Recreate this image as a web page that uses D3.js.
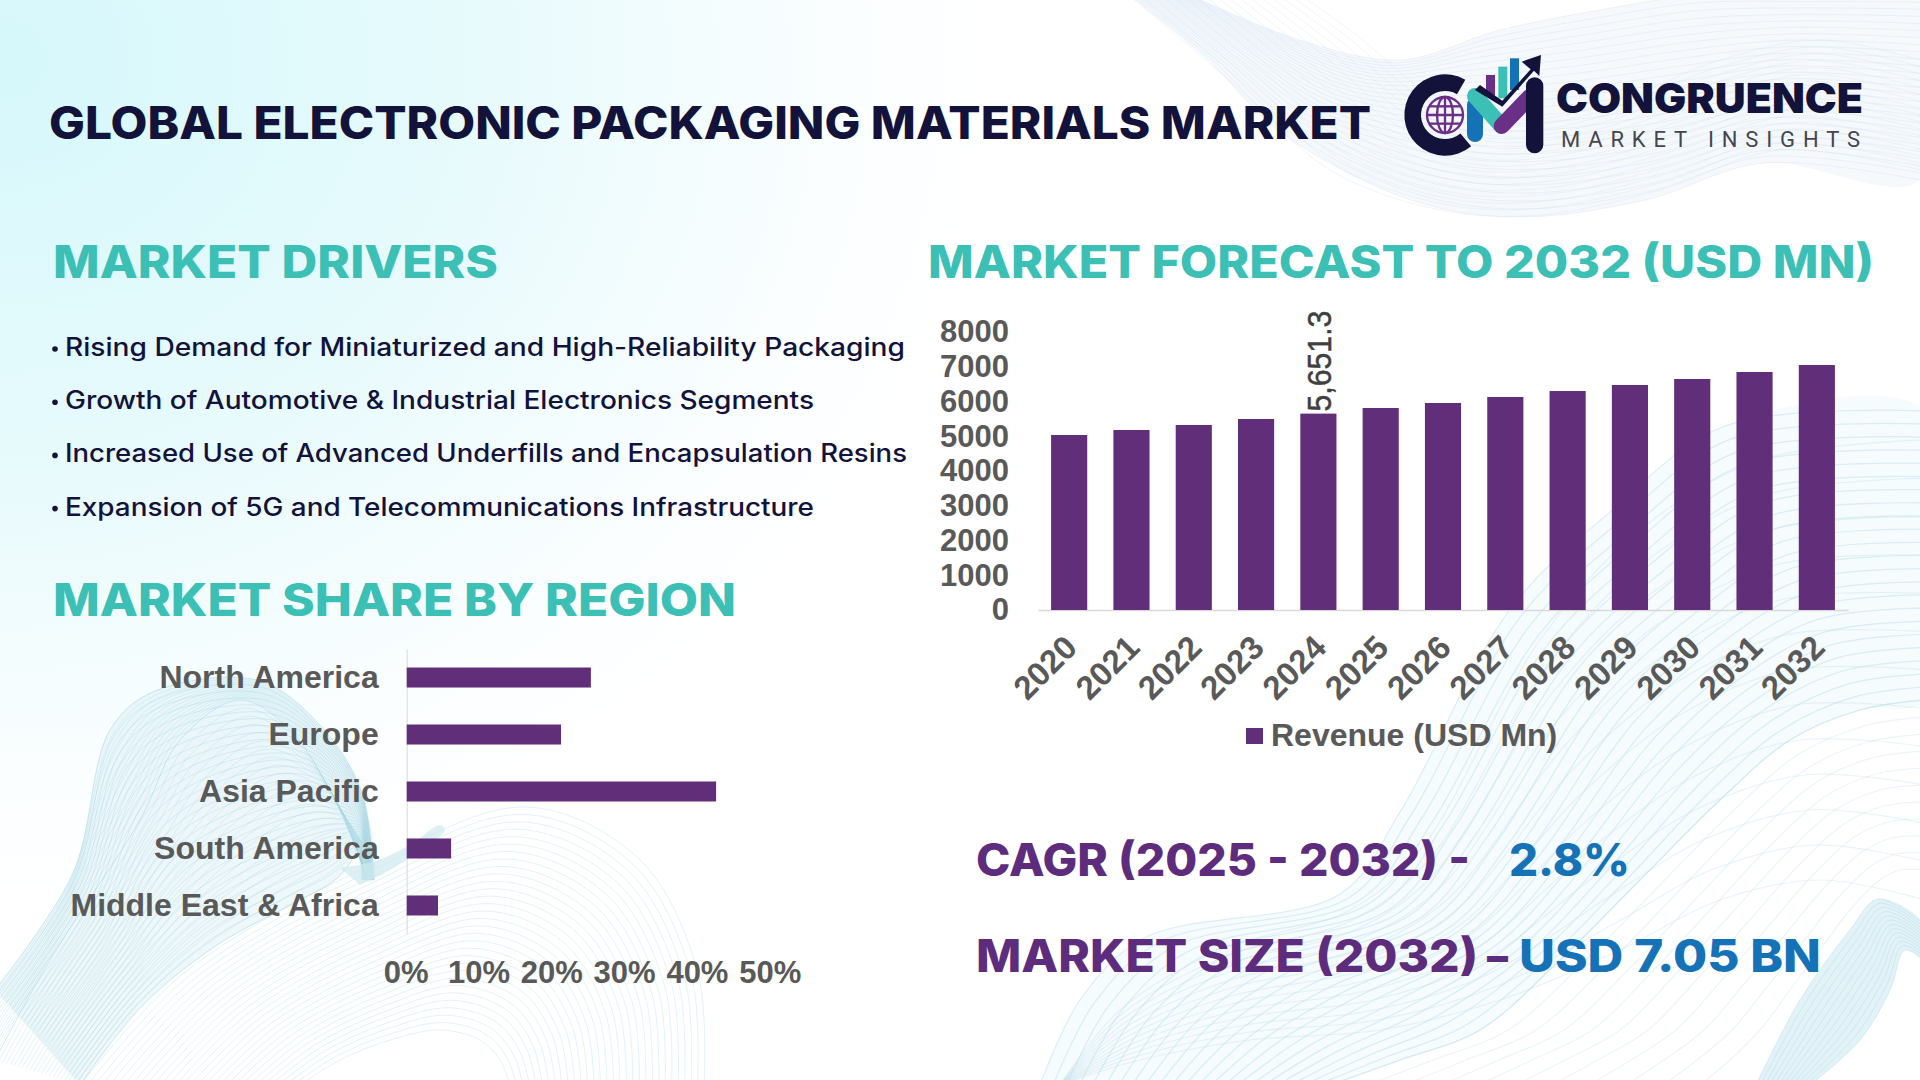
<!DOCTYPE html>
<html>
<head>
<meta charset="utf-8">
<script src="https://cdn.jsdelivr.net/npm/d3@7"></script>
<style>
body { margin: 0; background: #fff; }
text { font-family: "Liberation Sans", Arial, sans-serif; }
.head { font-family: Inter, sans-serif; }
</style>
</head>
<body>
<script>
// chart values
var years = ["2020","2021","2022","2023","2024","2025","2026","2027","2028","2029","2030","2031","2032"];
var revenue = [5036,5180,5324,5496,5651.3,5813,5957,6130,6302,6475,6647,6849,7050];
var revenueTicks = [0,1000,2000,3000,4000,5000,6000,7000,8000];
var regions = ["North America","Europe","Asia Pacific","South America","Middle East & Africa"];
var regionShare = [25.3,21.2,42.5,6.1,4.3];
var shareTicks = [0,10,20,30,40,50];
var drivers = [
  "Rising Demand for Miniaturized and High-Reliability Packaging",
  "Growth of Automotive & Industrial Electronics Segments",
  "Increased Use of Advanced Underfills and Encapsulation Resins",
  "Expansion of 5G and Telecommunications Infrastructure"
];
var driverWidths = [839,748,841,748];

var purple = "#612e79", grey = "#595959", teal = "#3cbfb5", navy = "#12123a", blue = "#1572b6";

var svg = d3.select("body").append("svg")
  .attr("width", 1920)
  .attr("height", 1080)
  .style("display", "block");

// background wash
var defs = svg.append("defs");
var wash = defs.append("radialGradient")
  .attr("id", "wash")
  .attr("gradientUnits", "userSpaceOnUse")
  .attr("cx", 0).attr("cy", 60).attr("r", 1000)
  .attr("gradientTransform", "translate(0,60) scale(1,0.85) translate(0,-60)");
wash.append("stop").attr("offset", "0").attr("stop-color", "#d6f8fb");
wash.append("stop").attr("offset", "0.45").attr("stop-color", "#e6fafc");
wash.append("stop").attr("offset", "0.85").attr("stop-color", "#fbfeff");
wash.append("stop").attr("offset", "1").attr("stop-color", "#ffffff");
svg.append("rect").attr("width", 1920).attr("height", 1080).attr("fill", "url(#wash)");

// wave decoration: a family of thin curves between two guide paths
var curve = d3.line().curve(d3.curveCatmullRom.alpha(0.5));
var bg = svg.append("g").attr("fill", "none");
function ribbon(a, b, n, color, opacity, width) {
  d3.range(n + 1).forEach(function(i) {
    var t = i / n;
    bg.append("path")
      .attr("d", curve(a.map(function(p, k) {
        return [p[0] + (b[k][0] - p[0]) * t, p[1] + (b[k][1] - p[1]) * t];
      })))
      .attr("stroke", color)
      .attr("stroke-opacity", opacity)
      .attr("stroke-width", width);
  });
}
// pale fill under a group of curves
function sheet(a, b, color, opacity) {
  bg.append("path")
    .attr("d", curve(a.concat(b.slice().reverse())) + "Z")
    .attr("fill", color)
    .attr("fill-opacity", opacity);
}

// top right mesh
var topA = [[1129,-5],[1205,57],[1282,133],[1411,200],[1516,217],[1645,200],[1763,163],[1920,180]];
var topB = [[1190,-5],[1300,40],[1400,60],[1500,30],[1600,10],[1700,-5],[1800,-5],[1920,-5]];
sheet(topA, topB, "#e6edf7", 0.35);
ribbon(topA, topB, 26, "#c8d8ee", 0.3, 1);
ribbon([[1129,-5],[1240,90],[1330,170],[1440,210],[1540,215],[1660,190],[1780,150],[1920,170]],
       [[1300,-5],[1350,30],[1440,100],[1520,120],[1620,100],[1720,60],[1820,40],[1920,60]], 16, "#c8dcee", 0.28, 1);

// big hump bottom right
var humpA = [[1040,1085],[1080,1000],[1144,938],[1340,894],[1400,812],[1511,608],[1609,513],[1725,426],[1925,411]];
var humpB = [[1330,1085],[1400,1060],[1480,1030],[1560,960],[1640,880],[1720,800],[1790,740],[1860,710],[1925,700]];
sheet(humpA, humpB, "#e4f3f8", 0.35);
ribbon(humpA, humpB, 22, "#b4dbe8", 0.45, 1.2);
ribbon([[1060,1085],[1120,1010],[1220,950],[1350,910],[1420,850],[1540,640],[1640,530],[1760,460],[1925,440]],
       [[1060,1085],[1140,1060],[1250,1040],[1380,1030],[1500,1000],[1620,950],[1720,900],[1820,880],[1925,900]], 12, "#bfe0ea", 0.35, 1.2);
ribbon([[1330,1085],[1400,1060],[1480,1030],[1560,960],[1640,880],[1720,800],[1790,740],[1860,710],[1925,700]],
       [[1700,1085],[1730,1060],[1760,1030],[1790,990],[1820,950],[1850,910],[1880,880],[1900,870],[1925,870]], 10, "#bfe0ea", 0.32, 1.2);
// bottom right corner ribbon
sheet([[1756,1085],[1800,1000],[1850,930],[1878,899],[1925,925]], [[1810,1085],[1860,1040],[1890,990],[1905,950],[1925,960]], "#cfeaf2", 0.6);
ribbon([[1756,1085],[1800,1000],[1850,930],[1878,899],[1925,925]],
       [[1810,1085],[1860,1040],[1890,990],[1905,950],[1925,960]], 12, "#b4deea", 0.5, 1);

// arc bottom left
ribbon([[80,1085],[184,973],[367,867],[527,807],[640,860],[698,973],[704,1085]],
       [[300,1085],[340,1060],[390,1040],[440,1030],[480,1040],[500,1060],[510,1085]], 30, "#b8e2e8", 0.42, 1);

// mesh bottom left
var leftA = [[-5,990],[73,873],[110,730],[153,692],[257,680],[318,723],[361,790],[374,880]];
var leftB = [[80,1085],[141,1007],[214,947],[290,905],[335,880],[352,860],[360,840],[362,880]];
var leftC = [[-5,1060],[50,960],[140,820],[180,740],[240,700],[290,730],[335,800],[368,880]];
sheet(leftA, leftB, "#cfe9f0", 0.35);
ribbon(leftA, leftB, 30, "#9fd3e0", 0.34, 1);
ribbon(leftC, leftB, 22, "#9fd3e0", 0.28, 1);
ribbon(leftA, leftC, 14, "#9fd3e0", 0.28, 1);
sheet([[340,868],[380,860],[410,845],[440,825]], [[360,885],[390,870],[420,850],[445,830]], "#cfeaef", 0.7);

// header
svg.append("text")
  .attr("class", "head")
  .attr("x", 49).attr("y", 139)
  .attr("font-size", 45).attr("font-weight", 800)
  .attr("fill", navy)
  .attr("textLength", 1322).attr("lengthAdjust", "spacingAndGlyphs")
  .text("GLOBAL ELECTRONIC PACKAGING MATERIALS MARKET");

// section headings
function heading(label, x, y, width) {
  svg.append("text")
    .attr("class", "head")
    .attr("x", x).attr("y", y)
    .attr("font-size", 45).attr("font-weight", 800)
    .attr("fill", teal)
    .attr("textLength", width).attr("lengthAdjust", "spacingAndGlyphs")
    .text(label);
}
heading("MARKET DRIVERS", 53, 278, 445);
heading("MARKET FORECAST TO 2032 (USD MN)", 928, 278, 946);
heading("MARKET SHARE BY REGION", 53, 616, 683);

// driver list
drivers.forEach(function(d, i) {
  var y = 356 + i * 53.2;
  svg.append("circle").attr("cx", 55).attr("cy", y - 7).attr("r", 2.8).attr("fill", navy);
  svg.append("text")
    .attr("class", "head")
    .attr("x", 65).attr("y", y)
    .attr("font-size", 25).attr("font-weight", 500)
    .attr("fill", navy)
    .attr("textLength", driverWidths[i] + 1).attr("lengthAdjust", "spacingAndGlyphs")
    .text(d);
});

// forecast chart
var x = d3.scaleBand().domain(years).range([1038, 1848]).paddingInner(0.42).paddingOuter(0.21);
var y = d3.scaleLinear().domain([0, 8000]).range([610, 332]);

var yAxis = svg.append("g")
  .attr("transform", "translate(1038,0)")
  .call(d3.axisLeft(y).tickValues(revenueTicks).tickSize(0).tickPadding(29).tickFormat(d3.format("d")));
yAxis.select(".domain").remove();
yAxis.selectAll("text")
  .style("font-family", "Liberation Sans")
  .attr("font-size", 31).attr("font-weight", 700).attr("fill", grey);

var xAxis = svg.append("g")
  .attr("transform", "translate(0,610)")
  .call(d3.axisBottom(x).tickSize(0));
xAxis.select(".domain").attr("stroke", "#d9d9d9").attr("stroke-width", 1.5);
xAxis.selectAll("text")
  .style("font-family", "Liberation Sans")
  .attr("font-size", 33).attr("font-weight", 700).attr("fill", grey)
  .attr("text-anchor", "end")
  .attr("dx", 0).attr("dy", 0).attr("x", -21).attr("y", 35)
  .attr("transform", "rotate(-45)");

svg.append("g").selectAll("rect")
  .data(revenue)
  .join("rect")
  .attr("x", function(d, i) { return x(years[i]); })
  .attr("y", function(d) { return y(d); })
  .attr("width", x.bandwidth())
  .attr("height", function(d) { return y(0) - y(d); })
  .attr("fill", purple);

// only 2024 carries a value label
var labelYear = years.indexOf("2024");
svg.append("text")
  .attr("transform", "translate(" + (x(years[labelYear]) + x.bandwidth() / 2 + 13) + "," + (y(revenue[labelYear]) - 2) + ") rotate(-90)")
  .attr("font-size", 33)
  .attr("fill", "#404040")
  .attr("stroke", "#404040").attr("stroke-width", 0.5)
  .attr("textLength", 101).attr("lengthAdjust", "spacingAndGlyphs")
  .text(d3.format(",.1f")(revenue[labelYear]));

// legend
svg.append("rect").attr("x", 1246).attr("y", 728).attr("width", 17).attr("height", 16).attr("fill", purple);
svg.append("text")
  .attr("x", 1271).attr("y", 746)
  .attr("font-size", 32).attr("font-weight", 700).attr("fill", grey)
  .text("Revenue (USD Mn)");

// region chart
var sx = d3.scaleLinear().domain([0, 50]).range([406.7, 770.7]);
var sy = d3.scaleBand().domain(regions).range([649, 934]).paddingInner(0.649).paddingOuter(0.325);

var syAxis = svg.append("g")
  .attr("transform", "translate(406.7,0)")
  .call(d3.axisLeft(sy).tickSize(0).tickPadding(28));
syAxis.select(".domain").attr("stroke", "#d9d9d9").attr("stroke-width", 1);
syAxis.selectAll("text")
  .style("font-family", "Liberation Sans")
  .attr("font-size", 32).attr("font-weight", 700).attr("fill", grey)
  .attr("dy", "0.34em");

var sxAxis = svg.append("g")
  .attr("transform", "translate(0,958)")
  .call(d3.axisBottom(sx).tickValues(shareTicks).tickSize(0).tickFormat(function(d) { return d + "%"; }));
sxAxis.select(".domain").remove();
sxAxis.selectAll("text")
  .style("font-family", "Liberation Sans")
  .attr("font-size", 31).attr("font-weight", 700).attr("fill", grey)
  .attr("dx", -1);

svg.append("g").selectAll("rect")
  .data(regionShare)
  .join("rect")
  .attr("x", sx(0))
  .attr("y", function(d, i) { return sy(regions[i]); })
  .attr("width", function(d) { return sx(d) - sx(0); })
  .attr("height", sy.bandwidth())
  .attr("fill", purple);

// key figures
function keyFigure(label, xpos, ypos, width, color) {
  svg.append("text")
    .attr("class", "head")
    .attr("x", xpos).attr("y", ypos)
    .attr("font-size", 45).attr("font-weight", 800)
    .attr("fill", color)
    .attr("textLength", width).attr("lengthAdjust", "spacingAndGlyphs")
    .text(label);
}
keyFigure("CAGR (2025 - 2032) -", 976, 876, 494, "#5e2c7d");
keyFigure("2.8%", 1509, 876, 121, blue);
keyFigure("MARKET SIZE (2032)", 976, 972, 502, "#5e2c7d");
keyFigure("–", 1487, 972, 21, "#5e2c7d");
keyFigure("USD 7.05 BN", 1519, 972, 302, blue);

// logo, drawn in 3x units
var logo = svg.append("g").attr("transform", "translate(1380,40) scale(0.3333)");
var logoC = d3.arc().innerRadius(72).outerRadius(122)
  .startAngle(140 * Math.PI / 180).endAngle(390 * Math.PI / 180);
logo.append("path").attr("transform", "translate(195,225)").attr("d", logoC).attr("fill", navy);
var globe = logo.append("g").attr("transform", "translate(195,225)").attr("fill", "none")
  .attr("stroke", "#6a2f86").attr("stroke-width", 7);
globe.append("circle").attr("r", 54);
globe.append("ellipse").attr("rx", 24).attr("ry", 54);
globe.append("line").attr("x1", -54).attr("x2", 54);
globe.append("line").attr("x1", -46).attr("x2", 46).attr("y1", -26).attr("y2", -26);
globe.append("line").attr("x1", -46).attr("x2", 46).attr("y1", 26).attr("y2", 26);
globe.append("line").attr("y1", -54).attr("y2", 54);
logo.append("rect").attr("x", 318).attr("y", 105).attr("width", 27).attr("height", 60).attr("fill", "#6a2f86");
logo.append("rect").attr("x", 355).attr("y", 80).attr("width", 27).attr("height", 95).attr("fill", teal);
logo.append("rect").attr("x", 390).attr("y", 55).attr("width", 27).attr("height", 95).attr("fill", blue);
logo.append("line").attr("x1", 285).attr("y1", 195).attr("x2", 285).attr("y2", 282)
  .attr("stroke", blue).attr("stroke-width", 48).attr("stroke-linecap", "round");
logo.append("line").attr("x1", 285).attr("y1", 168).attr("x2", 362).attr("y2", 255)
  .attr("stroke", teal).attr("stroke-width", 48).attr("stroke-linecap", "round");
logo.append("line").attr("x1", 365).attr("y1", 258).attr("x2", 450).attr("y2", 170)
  .attr("stroke", "#6a2f86").attr("stroke-width", 48).attr("stroke-linecap", "round");
logo.append("line").attr("x1", 464).attr("y1", 138).attr("x2", 464).attr("y2", 314)
  .attr("stroke", navy).attr("stroke-width", 52).attr("stroke-linecap", "round");
logo.append("path")
  .attr("d", "M285,150 L300,135 L367,182 L452,88 L425,65 L483,45 L478,108 L462,92 L367,200 Z")
  .attr("fill", navy);

svg.append("text")
  .attr("class", "head")
  .attr("x", 1556).attr("y", 113)
  .attr("font-size", 41).attr("font-weight", 900)
  .attr("fill", navy)
  .attr("textLength", 307).attr("lengthAdjust", "spacingAndGlyphs")
  .text("CONGRUENCE");
svg.append("text")
  .attr("x", 1561).attr("y", 146.5)
  .style("font-family", "Roboto")
  .attr("font-size", 22).attr("font-weight", 400)
  .attr("fill", "#45454f")
  .attr("textLength", 299).attr("lengthAdjust", "spacing")
  .text("MARKET INSIGHTS");
</script>
</body>
</html>
